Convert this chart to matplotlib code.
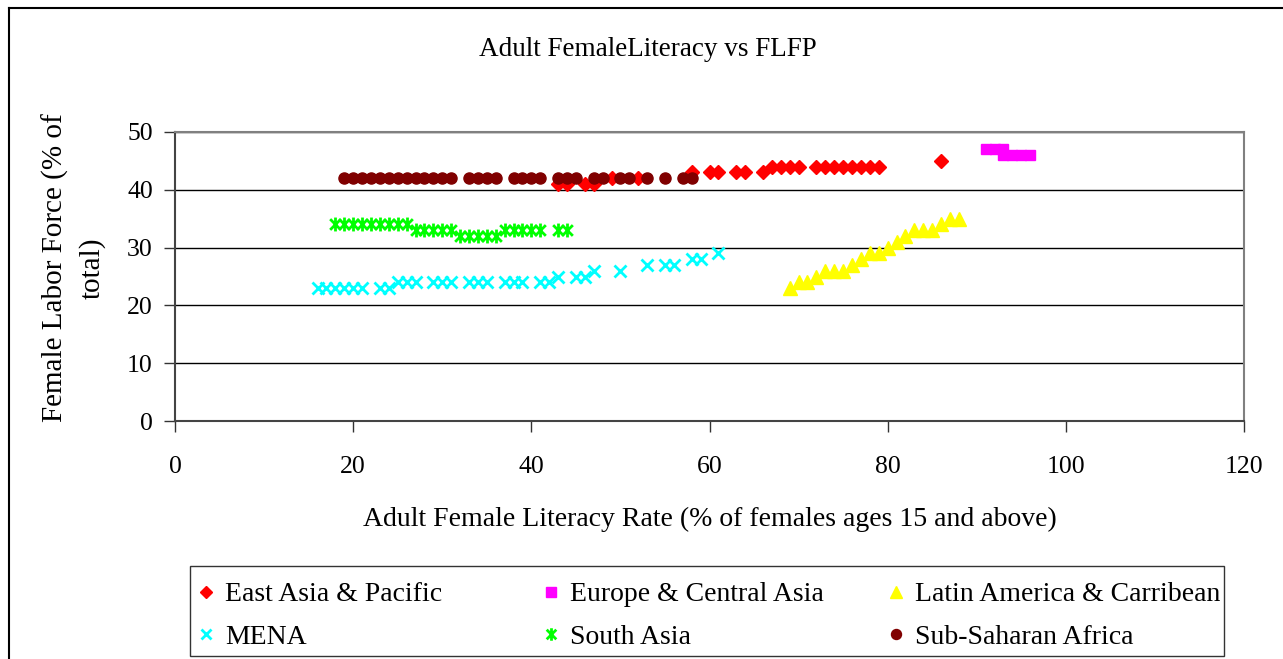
import matplotlib
matplotlib.use("Agg")
import matplotlib.pyplot as plt
from matplotlib.lines import Line2D
from matplotlib.patches import Rectangle
from matplotlib.path import Path

plt.rcParams['font.family'] = ['Liberation Serif', 'DejaVu Serif']

# ---- data ----
eap_x = [43, 44, 46, 47, 49, 52, 58, 60, 61, 63, 64, 66, 67, 68, 69, 70, 72, 73, 74, 75, 76, 77, 78, 79, 86]
eap_y = [41, 41, 41, 41, 42, 42, 43, 43, 43, 43, 43, 43, 44, 44, 44, 44, 44, 44, 44, 44, 44, 44, 44, 44, 45]

eca_x = [91, 92, 93, 93, 94, 95, 96]
eca_y = [47, 47, 47, 46, 46, 46, 46]

lac_x = [69, 70, 71, 72, 73, 74, 75, 76, 77, 78, 79, 80, 81, 82, 83, 84, 85, 86, 87, 88]
lac_y = [23, 24, 24, 25, 26, 26, 26, 27, 28, 29, 29, 30, 31, 32, 33, 33, 33, 34, 35, 35]

mena_x = [16, 17, 18, 19, 20, 21, 23, 24, 25, 26, 27, 29, 30, 31, 33, 34, 35, 37, 38, 39,
          41, 42, 43, 45, 46, 47, 50, 53, 55, 56, 58, 59, 61]
mena_y = [23, 23, 23, 23, 23, 23, 23, 23, 24, 24, 24, 24, 24, 24, 24, 24, 24, 24, 24, 24,
          24, 24, 25, 25, 25, 26, 26, 27, 27, 27, 28, 28, 29]

sa_x = [18, 19, 20, 21, 22, 23, 24, 25, 26, 27, 28, 29, 30, 31, 32, 33, 34, 35, 36,
        37, 38, 39, 40, 41, 43, 44]
sa_y = [34, 34, 34, 34, 34, 34, 34, 34, 34, 33, 33, 33, 33, 33, 32, 32, 32, 32, 32,
        33, 33, 33, 33, 33, 33, 33]

ssa_x = [19, 20, 21, 22, 23, 24, 25, 26, 27, 28, 29, 30, 31, 33, 34, 35, 36, 38, 39, 40, 41,
         43, 44, 45, 47, 48, 50, 51, 53, 55, 57, 58]
ssa_y = [42] * len(ssa_x)

series_names = ["East Asia & Pacific", "Europe & Central Asia", "Latin America & Carribean",
                "MENA", "South Asia", "Sub-Saharan Africa"]

x_ticks = [0, 20, 40, 60, 80, 100, 120]
y_ticks = [0, 10, 20, 30, 40, 50]

# ---- figure ----
W, H = 1283, 659
fig = plt.figure(figsize=(W / 100, H / 100), dpi=100)
ax = fig.add_axes([175 / W, 1 - 421 / H, (1244 - 175) / W, (421 - 132) / H])

asterisk = Path([(-1, -1), (1, 1), (-1, 1), (1, -1), (0, -1.3), (0, 1.3)],
                [Path.MOVETO, Path.LINETO, Path.MOVETO, Path.LINETO, Path.MOVETO, Path.LINETO])

h_eap, = ax.plot(eap_x, eap_y, ls='none', marker='D', ms=7, color='#FF0000', mec='#FF0000', label=series_names[0])
h_eca, = ax.plot(eca_x, eca_y, ls='none', marker='s', ms=7.5, color='#FF00FF', mec='#FF00FF', label=series_names[1])
h_lac, = ax.plot(lac_x, lac_y, ls='none', marker='^', ms=9.5, color='#FFFF00', mec='#FFFF00', label=series_names[2])
h_mena, = ax.plot(mena_x, mena_y, ls='none', marker='x', ms=8.5, mew=2, color='#00FFFF', label=series_names[3])
h_sa, = ax.plot(sa_x, sa_y, ls='none', marker=asterisk, ms=10, mew=2, mfc='none', mec='#00FF00', color='#00FF00', label=series_names[4])
h_ssa, = ax.plot(ssa_x, ssa_y, ls='none', marker='o', ms=8, color='#800000', mec='#800000', label=series_names[5])

ax.set_xlim(0, 120)
ax.set_ylim(0, 50)
ax.set_xticks(x_ticks)
ax.set_yticks(y_ticks)
ax.set_xticklabels([str(v) for v in x_ticks])
ax.set_yticklabels([str(v) for v in y_ticks])
ax.tick_params(axis='both', direction='out', length=8, width=1, color='#333333', labelsize=18.5)
ax.tick_params(axis='x', pad=17)
ax.tick_params(axis='y', pad=8)
ax.yaxis.grid(True, color='black', lw=1)
ax.set_axisbelow(True)
for s in ['top', 'right']:
    ax.spines[s].set_color('#808080')
    ax.spines[s].set_linewidth(1.5)
for s in ['left', 'bottom']:
    ax.spines[s].set_color('#444444')
    ax.spines[s].set_linewidth(1.5)

fig.text(648 / W, 1 - 50 / H, "Adult FemaleLiteracy vs FLFP", ha='center', va='center', fontsize=19.5)
fig.text(709.5 / W, 1 - 519 / H, "Adult Female Literacy Rate (% of females ages 15 and above)",
         ha='center', va='center', fontsize=20)
fig.text(73.5 / W, 1 - 268 / H, "Female Labor Force (% of\ntotal)", rotation=90, ha='center', va='center',
         fontsize=21, multialignment='center', linespacing=1.5)

# figure frame
fig.add_artist(Line2D([8.5 / W, 8.5 / W], [0, 1 - 7.5 / H], color='black', lw=1.5))
fig.add_artist(Line2D([8.5 / W, 1], [1 - 7.5 / H, 1 - 7.5 / H], color='black', lw=1.5))

# legend: frame + three columns
fig.add_artist(Rectangle((190 / W, 1 - 656 / H), (1224 - 190) / W, (656 - 566) / H,
                         transform=fig.transFigure, fill=False, edgecolor='#333333', lw=1))
columns = [(h_eap, h_mena), (h_eca, h_sa), (h_lac, h_ssa)]
col_x = [198, 543, 888]
for hs, cx in zip(columns, col_x):
    fig.legend(handles=list(hs), labels=[h.get_label() for h in hs], ncol=1,
               loc='upper left', bbox_to_anchor=(cx / W, 1 - 582 / H),
               frameon=False, fontsize=20, markerscale=0.9,
               handlelength=0.6, handletextpad=0.37, borderaxespad=0, borderpad=0,
               labelspacing=0.6)

fig.savefig("out.png", dpi=100)
